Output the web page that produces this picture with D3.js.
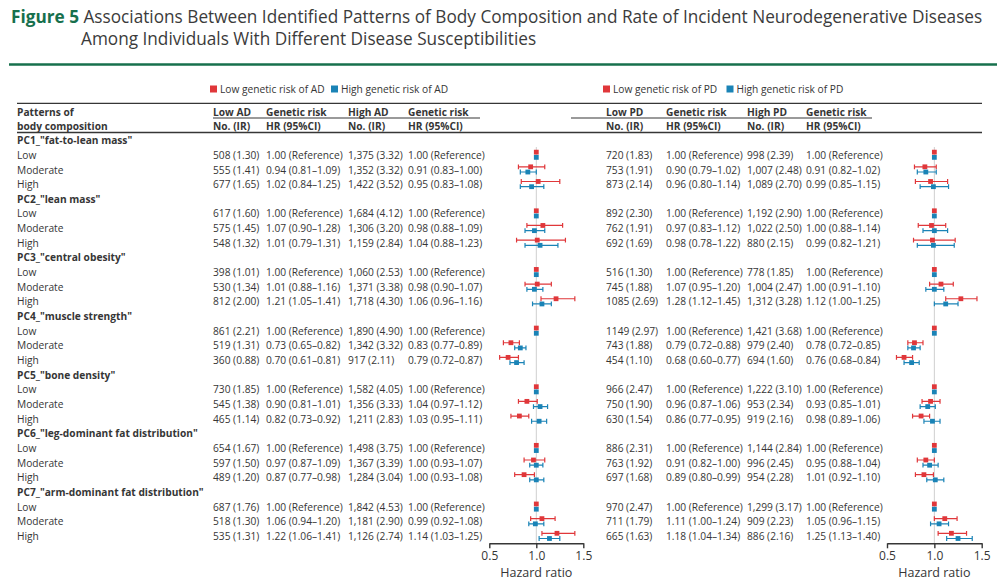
<!DOCTYPE html>
<html>
<head>
<meta charset="utf-8">
<script src="https://cdn.jsdelivr.net/npm/d3@7"></script>
<style>
  body { margin: 0; background: #fff; }
  svg { font-family: "Open Sans", sans-serif; }
</style>
</head>
<body>
<svg id="chart" width="1006" height="588"></svg>
<script>
const patterns = [
  'PC1_"fat-to-lean mass"', 'PC2_"lean mass"', 'PC3_"central obesity"',
  'PC4_"muscle strength"', 'PC5_"bone density"',
  'PC6_"leg-dominant fat distribution"', 'PC7_"arm-dominant fat distribution"'
];
const levels = ["Low", "Moderate", "High"];

// AD: low genetic risk
const adLowNo = ["508 (1.30)", "555 (1.41)", "677 (1.65)", "617 (1.60)", "575 (1.45)", "548 (1.32)",
  "398 (1.01)", "530 (1.34)", "812 (2.00)", "861 (2.21)", "519 (1.31)", "360 (0.88)",
  "730 (1.85)", "545 (1.38)", "465 (1.14)", "654 (1.67)", "597 (1.50)", "489 (1.20)",
  "687 (1.76)", "518 (1.30)", "535 (1.31)"];
const adLowHR = [[1, 1, 1], [0.94, 0.81, 1.09], [1.02, 0.84, 1.25], [1, 1, 1], [1.07, 0.90, 1.28], [1.01, 0.79, 1.31],
  [1, 1, 1], [1.01, 0.88, 1.16], [1.21, 1.05, 1.41], [1, 1, 1], [0.73, 0.65, 0.82], [0.70, 0.61, 0.81],
  [1, 1, 1], [0.90, 0.81, 1.01], [0.82, 0.73, 0.92], [1, 1, 1], [0.97, 0.87, 1.09], [0.87, 0.77, 0.98],
  [1, 1, 1], [1.06, 0.94, 1.20], [1.22, 1.06, 1.41]];
// AD: high genetic risk
const adHighNo = ["1,375 (3.32)", "1,352 (3.32)", "1,422 (3.52)", "1,684 (4.12)", "1,306 (3.20)", "1,159 (2.84)",
  "1,060 (2.53)", "1,371 (3.38)", "1,718 (4.30)", "1,890 (4.90)", "1,342 (3.32)", "917 (2.11)",
  "1,582 (4.05)", "1,356 (3.33)", "1,211 (2.83)", "1,498 (3.75)", "1,367 (3.39)", "1,284 (3.04)",
  "1,842 (4.53)", "1,181 (2.90)", "1,126 (2.74)"];
const adHighHR = [[1, 1, 1], [0.91, 0.83, 1.00], [0.95, 0.83, 1.08], [1, 1, 1], [0.98, 0.88, 1.09], [1.04, 0.88, 1.23],
  [1, 1, 1], [0.98, 0.90, 1.07], [1.06, 0.96, 1.16], [1, 1, 1], [0.83, 0.77, 0.89], [0.79, 0.72, 0.87],
  [1, 1, 1], [1.04, 0.97, 1.12], [1.03, 0.95, 1.11], [1, 1, 1], [1.00, 0.93, 1.07], [1.00, 0.93, 1.08],
  [1, 1, 1], [0.99, 0.92, 1.08], [1.14, 1.03, 1.25]];
// PD: low genetic risk
const pdLowNo = ["720 (1.83)", "753 (1.91)", "873 (2.14)", "892 (2.30)", "762 (1.91)", "692 (1.69)",
  "516 (1.30)", "745 (1.88)", "1085 (2.69)", "1149 (2.97)", "743 (1.88)", "454 (1.10)",
  "966 (2.47)", "750 (1.90)", "630 (1.54)", "886 (2.31)", "763 (1.92)", "697 (1.68)",
  "970 (2.47)", "711 (1.79)", "665 (1.63)"];
const pdLowHR = [[1, 1, 1], [0.90, 0.79, 1.02], [0.96, 0.80, 1.14], [1, 1, 1], [0.97, 0.83, 1.12], [0.98, 0.78, 1.22],
  [1, 1, 1], [1.07, 0.95, 1.20], [1.28, 1.12, 1.45], [1, 1, 1], [0.79, 0.72, 0.88], [0.68, 0.60, 0.77],
  [1, 1, 1], [0.96, 0.87, 1.06], [0.86, 0.77, 0.95], [1, 1, 1], [0.91, 0.82, 1.00], [0.89, 0.80, 0.99],
  [1, 1, 1], [1.11, 1.00, 1.24], [1.18, 1.04, 1.34]];
// PD: high genetic risk
const pdHighNo = ["998 (2.39)", "1,007 (2.48)", "1,089 (2.70)", "1,192 (2.90)", "1,022 (2.50)", "880 (2.15)",
  "778 (1.85)", "1,004 (2.47)", "1,312 (3.28)", "1,421 (3.68)", "979 (2.40)", "694 (1.60)",
  "1,222 (3.10)", "953 (2.34)", "919 (2.16)", "1,144 (2.84)", "996 (2.45)", "954 (2.28)",
  "1,299 (3.17)", "909 (2.23)", "886 (2.16)"];
const pdHighHR = [[1, 1, 1], [0.91, 0.82, 1.02], [0.99, 0.85, 1.15], [1, 1, 1], [1.00, 0.88, 1.14], [0.99, 0.82, 1.21],
  [1, 1, 1], [1.00, 0.91, 1.10], [1.12, 1.00, 1.25], [1, 1, 1], [0.78, 0.72, 0.85], [0.76, 0.68, 0.84],
  [1, 1, 1], [0.93, 0.85, 1.01], [0.98, 0.89, 1.06], [1, 1, 1], [0.95, 0.88, 1.04], [1.01, 0.92, 1.10],
  [1, 1, 1], [1.05, 0.96, 1.15], [1.25, 1.13, 1.40]];
const hrTicks = [0.5, 1.0, 1.5];

const RED = "#e0373a";
const BLUE = "#1a83b6";
const TEXT = "#363636";
const FONT = 10.2;

const svg = d3.select("#chart");

// title, scaled so the first line spans the same width as the reference
let titleSize = 18;
let title = svg.append("text").attr("x", 11).attr("y", 23).attr("font-size", titleSize).attr("fill", "#3b3b3b");
title.append("tspan").attr("font-weight", 700).attr("fill", "#17704d").text("Figure 5");
title.append("tspan").text(" Associations Between Identified Patterns of Body Composition and Rate of Incident Neurodegenerative Diseases");
let titleLen = title.node().getComputedTextLength();
titleSize = titleSize * 972 / titleLen;
title.attr("font-size", titleSize);
svg.append("text").attr("x", 81).attr("y", 45).attr("font-size", titleSize).attr("fill", "#3b3b3b")
  .text("Among Individuals With Different Disease Susceptibilities");

svg.append("line").attr("x1", 9).attr("x2", 997).attr("y1", 64.5).attr("y2", 64.5)
  .attr("stroke", "#17704d").attr("stroke-width", 2.5);

// table rules
[103.3, 132.5].forEach(y => {
  svg.append("line").attr("x1", 17).attr("x2", 982).attr("y1", y).attr("y2", y)
    .attr("stroke", TEXT).attr("stroke-width", 1.3);
});

let rowY = d3.scaleLinear().domain([0, 27]).range([140.2, 536]);

// row labels
let rows = [];
patterns.forEach((p, pi) => {
  rows.push({ text: p, bold: true, r: pi * 4 });
  levels.forEach((l, li) => rows.push({ text: l, bold: false, r: pi * 4 + li + 1 }));
});
svg.append("g").selectAll("text")
  .data(rows)
  .enter()
  .append("text")
    .attr("x", 17)
    .attr("y", d => rowY(d.r))
    .attr("dominant-baseline", "central")
    .attr("font-size", FONT)
    .attr("font-weight", d => d.bold ? 700 : 400)
    .attr("fill", TEXT)
    .text(d => d.text);

svg.append("text").attr("x", 17).attr("y", 111.5).attr("dominant-baseline", "central")
  .attr("font-size", FONT).attr("font-weight", 700).attr("fill", TEXT).text("Patterns of");
svg.append("text").attr("x", 17).attr("y", 126).attr("dominant-baseline", "central")
  .attr("font-size", FONT).attr("font-weight", 700).attr("fill", TEXT).text("body composition");

function hrText(d, i) {
  return i % 3 == 0 ? "1.00 (Reference)" : `${ d[0].toFixed(2) } (${ d[1].toFixed(2) }\u2013${ d[2].toFixed(2) })`;
}

function setPanel(opts) {
  let cols = opts.cols;
  let g = svg.append("g");

  // legend
  let leg = [{ c: RED, t: `Low genetic risk of ${ opts.name }`, x: opts.legX[0] },
             { c: BLUE, t: `High genetic risk of ${ opts.name }`, x: opts.legX[1] }];
  leg.forEach(l => {
    g.append("rect").attr("x", l.x).attr("y", 85.5).attr("width", 7).attr("height", 7).attr("fill", l.c);
    g.append("text").attr("x", l.x + 10).attr("y", 89).attr("dominant-baseline", "central")
      .attr("font-size", FONT).attr("fill", TEXT).text(l.t);
  });

  // column headers
  let head1 = [`Low ${ opts.name }`, "Genetic risk", `High ${ opts.name }`, "Genetic risk"];
  let head2 = ["No. (IR)", "HR (95%CI)", "No. (IR)", "HR (95%CI)"];
  head1.forEach((h, i) => {
    g.append("text").attr("x", cols[i]).attr("y", 111.5).attr("dominant-baseline", "central")
      .attr("font-size", FONT).attr("font-weight", 700).attr("fill", TEXT).text(h);
    g.append("text").attr("x", cols[i]).attr("y", 126).attr("dominant-baseline", "central")
      .attr("font-size", FONT).attr("font-weight", 700).attr("fill", TEXT).text(head2[i]);
  });
  g.append("line").attr("x1", opts.subLine[0]).attr("x2", opts.subLine[1]).attr("y1", 118).attr("y2", 118)
    .attr("stroke", TEXT).attr("stroke-width", 1.2);

  // data columns
  let rowOf = i => Math.floor(i / 3) * 4 + (i % 3) + 1;
  let colData = [opts.lowNo, opts.lowHR.map(hrText), opts.highNo, opts.highHR.map(hrText)];
  colData.forEach((arr, ci) => {
    g.append("g").selectAll("text")
      .data(arr)
      .enter()
      .append("text")
        .attr("x", cols[ci])
        .attr("y", (d, i) => rowY(rowOf(i)))
        .attr("dominant-baseline", "central")
        .attr("font-size", FONT)
        .attr("fill", TEXT)
        .text(d => d);
  });

  // forest plot
  let scale = d3.scaleLinear().domain([0.5, 1.5]).range(opts.range);
  let axisY = 543.3;

  g.append("line")
    .attr("x1", scale(1)).attr("x2", scale(1))
    .attr("y1", 147).attr("y2", axisY)
    .attr("stroke", "#cfcfcf").attr("stroke-width", 1);

  let series = [{ hr: opts.lowHR, c: RED, dy: -2.7 }, { hr: opts.highHR, c: BLUE, dy: 2.5 }];
  series.forEach(s => {
    let sg = g.append("g");
    let pts = s.hr.map((d, i) => ({ hr: d[0], lo: d[1], hi: d[2], ref: i % 3 == 0, y: rowY(rowOf(i)) + s.dy }));
    let ci = pts.filter(d => !d.ref);
    sg.selectAll(".ci")
      .data(ci)
      .enter()
      .append("path")
        .attr("class", "ci")
        .attr("d", d => `M${ scale(d.lo) },${ d.y }H${ scale(d.hi) }M${ scale(d.lo) },${ d.y - 2.4 }V${ d.y + 2.4 }M${ scale(d.hi) },${ d.y - 2.4 }V${ d.y + 2.4 }`)
        .attr("fill", "none")
        .attr("stroke", s.c)
        .attr("stroke-width", 1.2);
    sg.selectAll(".pt")
      .data(pts)
      .enter()
      .append("rect")
        .attr("class", "pt")
        .attr("x", d => scale(d.hr) - 2.4)
        .attr("y", d => d.y - 2.4)
        .attr("width", 4.8)
        .attr("height", 4.8)
        .attr("fill", s.c);
  });

  let axis = d3.axisBottom(scale)
    .tickValues(hrTicks)
    .tickFormat(d3.format(".1f"))
    .tickSize(5)
    .tickSizeOuter(0);
  let ax = g.append("g")
    .attr("transform", `translate(0, ${ axisY })`)
    .call(axis);
  ax.select(".domain").attr("stroke", TEXT).attr("stroke-width", 1.4);
  ax.selectAll(".tick line").attr("stroke", TEXT).attr("stroke-width", 1.4);
  ax.selectAll(".tick text").attr("font-size", 12).attr("fill", TEXT).attr("font-family", "Open Sans").attr("dy", "0.75em");

  g.append("text")
    .attr("x", scale(1))
    .attr("y", 572)
    .attr("text-anchor", "middle")
    .attr("dominant-baseline", "central")
    .attr("font-size", 12.5)
    .attr("fill", TEXT)
    .text("Hazard ratio");
}

setPanel({
  name: "AD", cols: [213, 266, 348, 408], legX: [210, 331], subLine: [213, 480],
  range: [489.3, 583.3], lowNo: adLowNo, lowHR: adLowHR, highNo: adHighNo, highHR: adHighHR
});
setPanel({
  name: "PD", cols: [606, 666, 747, 806], legX: [603, 726.5], subLine: [571, 872],
  range: [887, 981.7], lowNo: pdLowNo, lowHR: pdLowHR, highNo: pdHighNo, highHR: pdHighHR
});
</script>
</body>
</html>
